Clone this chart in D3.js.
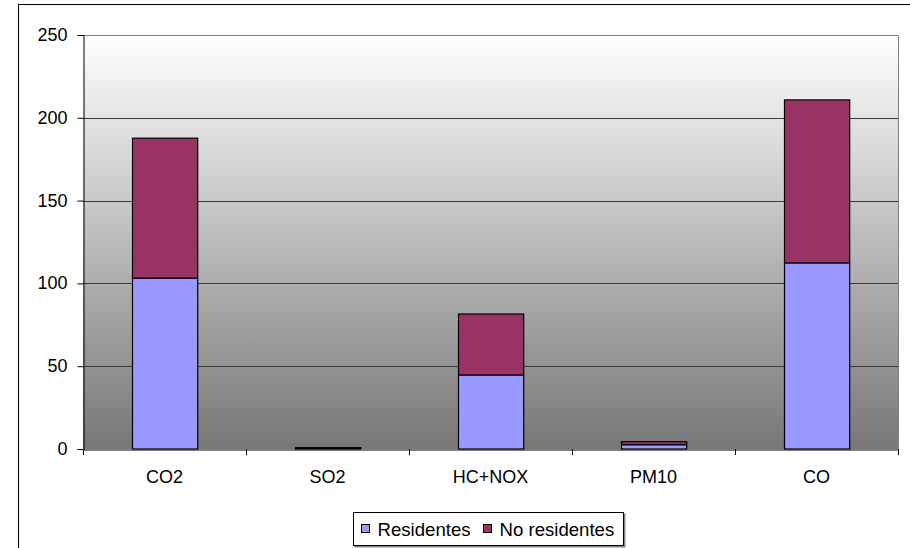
<!DOCTYPE html>
<html>
<head>
<meta charset="utf-8">
<script src="https://cdn.jsdelivr.net/npm/d3@7"></script>
<style>
  html, body { margin: 0; padding: 0; background: #fff; overflow: hidden; }
  svg { display: block; font-family: "Liberation Sans", Arial, sans-serif; }
</style>
</head>
<body>
<script>
// data
const categories = ['CO2', 'SO2', 'HC+NOX', 'PM10', 'CO']
const residentes = [103.2, 0.4, 44.7, 2.6, 112.4]
const noResidentes = [84.5, 0.4, 36.8, 1.8, 98.4]
const seriesNames = ['Residentes', 'No residentes']
const seriesColors = ['#9999FF', '#993366']
const yTicks = [0, 50, 100, 150, 200, 250]

const width = 910
const height = 548
const plot = { left: 83, top: 35, right: 898, bottom: 449 }
const fontSize = 18

const rows = categories.map((c, i) => ({ cat: c, 'Residentes': residentes[i], 'No residentes': noResidentes[i] }))

const svg = d3.select('body').append('svg')
  .attr('width', width)
  .attr('height', height)

// outer chart frame (runs off the canvas right/bottom)
svg.append('rect')
  .attr('x', 18.5).attr('y', 4.5)
  .attr('width', 1000).attr('height', 1000)
  .attr('fill', '#fff')
  .attr('stroke', '#000')

const defs = svg.append('defs')
const grad = defs.append('linearGradient')
  .attr('id', 'bg').attr('x1', 0).attr('y1', 0).attr('x2', 0).attr('y2', 1)
grad.append('stop').attr('offset', '0%').attr('stop-color', '#ffffff')
grad.append('stop').attr('offset', '100%').attr('stop-color', '#777777')

const x = d3.scaleBand()
  .domain(categories)
  .range([plot.left, plot.right])

const y = d3.scaleLinear()
  .domain([0, 250])
  .range([plot.bottom, plot.top])

// plot background
svg.append('rect')
  .attr('x', plot.left).attr('y', plot.top)
  .attr('width', plot.right - plot.left).attr('height', plot.bottom - plot.top)
  .attr('fill', 'url(#bg)')

// gridlines
svg.append('g')
  .selectAll('line')
  .data(yTicks.filter(d => d > 0 && d < 250))
  .join('line')
  .attr('x1', plot.left).attr('x2', plot.right)
  .attr('y1', d => Math.round(y(d)) + 0.5).attr('y2', d => Math.round(y(d)) + 0.5)
  .attr('stroke', '#3a3a3a')

// plot border (top/right gray)
svg.append('path')
  .attr('d', `M${plot.left},${plot.top + 0.5}H${plot.right + 0.5}V${plot.bottom}`)
  .attr('fill', 'none')
  .attr('stroke', '#808080')

// stacked bars
const stack = d3.stack().keys(seriesNames)
const stacked = stack(rows)
const barW = x.bandwidth() * 0.4

svg.append('g')
  .selectAll('g')
  .data(stacked)
  .join('g')
  .attr('fill', (d, i) => seriesColors[i])
  .selectAll('rect')
  .data(d => d)
  .join('rect')
  .attr('x', d => Math.round(x(d.data.cat) + (x.bandwidth() - barW) / 2) + 0.5)
  .attr('y', d => y(d[1]))
  .attr('width', barW)
  .attr('height', d => y(d[0]) - y(d[1]))
  .attr('stroke', '#000')
  .attr('stroke-width', 1.2)

// y axis
const yAxis = d3.axisLeft(y)
  .tickValues(yTicks)
  .tickSize(6)
  .tickPadding(10)
const gy = svg.append('g')
  .attr('transform', `translate(${plot.left + 0.5},0)`)
  .call(yAxis)
gy.select('.domain').attr('stroke', '#000')
gy.selectAll('.tick line').attr('stroke', '#000')
gy.selectAll('.tick text').attr('font-size', fontSize).attr('fill', '#000').attr('dy', '0.3em')
  .attr('font-family', '"Liberation Sans", Arial, sans-serif')

// x axis
const xAxis = d3.axisBottom(x)
  .tickSize(0)
const gx = svg.append('g')
  .attr('transform', `translate(0,${plot.bottom + 0.5})`)
  .call(xAxis)
gx.select('.domain').attr('stroke', '#000')
gx.selectAll('.tick text').attr('font-size', fontSize).attr('fill', '#000')
  .attr('y', 33).attr('dy', 0)
  .attr('font-family', '"Liberation Sans", Arial, sans-serif')

// category separator ticks
svg.append('g')
  .selectAll('line')
  .data(categories)
  .join('line')
  .attr('x1', d => Math.round(x(d)) + 0.5).attr('x2', d => Math.round(x(d)) + 0.5)
  .attr('y1', plot.bottom).attr('y2', plot.bottom + 6)
  .attr('stroke', '#000')
svg.append('line')
  .attr('x1', plot.right + 0.5).attr('x2', plot.right + 0.5)
  .attr('y1', plot.bottom).attr('y2', plot.bottom + 6)
  .attr('stroke', '#000')

// legend
const legend = svg.append('g').attr('transform', 'translate(353.5,512.5)')
legend.append('rect')
  .attr('x', 1).attr('y', 1).attr('width', 271).attr('height', 34)
  .attr('fill', '#888')
legend.append('rect')
  .attr('width', 270).attr('height', 33)
  .attr('fill', '#fff').attr('stroke', '#000')

const items = legend.selectAll('g.item')
  .data(seriesNames)
  .join('g')
  .attr('class', 'item')
  .attr('transform', (d, i) => `translate(${i === 0 ? 8 : 130},0)`)
items.append('rect')
  .attr('x', 0).attr('y', 12).attr('width', 8).attr('height', 8)
  .attr('fill', (d, i) => seriesColors[i]).attr('stroke', '#000')
items.append('text')
  .attr('x', 16).attr('y', 23)
  .attr('font-size', 18.6)
  .text(d => d)
</script>
</body>
</html>
